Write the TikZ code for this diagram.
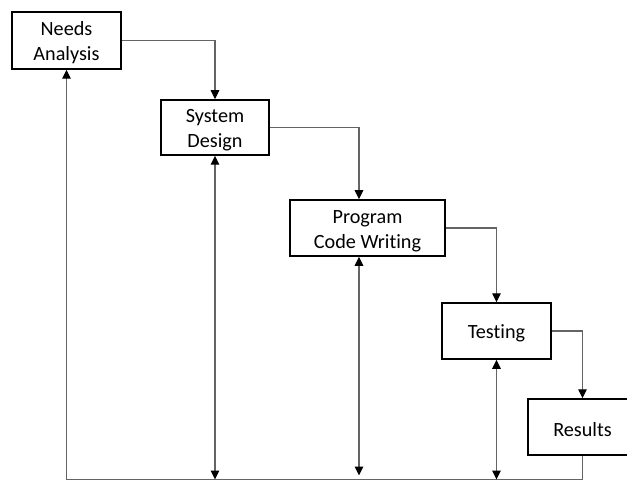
\documentclass[tikz,border=0pt]{standalone}
\usepackage{fontspec}
\setmainfont{Carlito}[Ligatures=NoCommon]
\usetikzlibrary{arrows.meta}
\definecolor{linegray}{RGB}{100,100,100}
\newcommand\lowerstrut{\rule{0pt}{18.5bp}}
\tikzset{
  stage/.style={draw=black, line width=1.5bp, fill=white, align=center,
    inner sep=0pt, font=\fontsize{20.2bp}{25bp}\selectfont},
  tipa/.tip={Triangle[length=9bp,width=8.5bp,color=black]},
  conn/.style={draw=linegray, line width=1.2bp, -tipa},
  both/.style={draw=linegray, line width=1.2bp, tipa-tipa}
}
\begin{document}
\begin{tikzpicture}[x=1bp,y=-1bp]
\useasboundingbox (0,0) rectangle (627,482);
\clip (0,0) rectangle (627,482);
\node[stage, minimum width=109bp, minimum height=57bp] (na) at (66.5,40.5) {\lowerstrut Needs\\Analysis};
\node[stage, minimum width=108bp, minimum height=55bp] (sd) at (215,127.5) {\lowerstrut System\\Design};
\node[stage, minimum width=155bp, minimum height=56bp] (pc) at (367.5,228) {\lowerstrut Program\\Code Writing};
\node[stage, minimum width=109bp, minimum height=56bp] (te) at (496.5,331) {\lowerstrut Testing};
\node[stage, minimum width=109bp, minimum height=56bp] (re) at (582.5,427) {\lowerstrut Results};
\coordinate (bl) at (66.5,479.5);
\coordinate (pcn) at ([xshift=-8.5bp]pc.north);
\coordinate (pcs) at ([xshift=-8.5bp]pc.south);
\draw[conn] (na.east) -| (sd.north);
\draw[conn] (sd.east) -| (pcn);
\draw[conn] (pc.east) -| (te.north);
\draw[conn] (te.east) -| (re.north);
\draw[conn] (re.south) |- (bl) -- (na.south);
\draw[both] (sd.south) -- (sd.south |- bl);
\draw[both] (pcs) -- ([yshift=4bp]pcs |- bl);
\draw[both] (te.south) -- (te.south |- bl);
\end{tikzpicture}
\end{document}
